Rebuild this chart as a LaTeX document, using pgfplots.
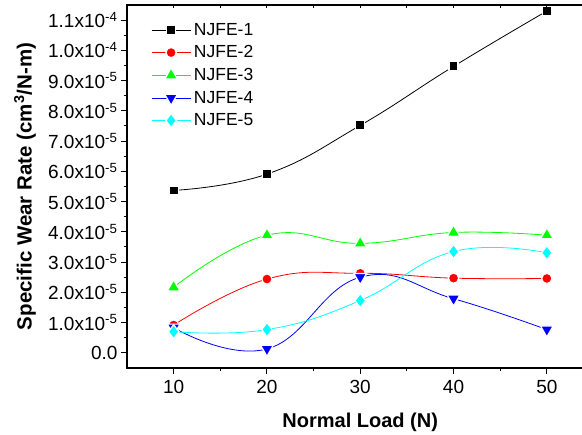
\documentclass[border=0pt]{standalone}
\usepackage{fontspec}
\setmainfont{Liberation Sans}
\usepackage{pgfplots}
\pgfplotsset{compat=1.18}
\definecolor{cblack}{RGB}{0,0,0}
\definecolor{cred}{RGB}{255,0,0}
\definecolor{cgreen}{RGB}{0,255,0}
\definecolor{cblue}{RGB}{0,0,255}
\definecolor{ccyan}{RGB}{0,255,255}
\begin{document}
\begin{tikzpicture}[x=1pt,y=1pt]
\clip (-127,-67) rectangle (455,368);
\begin{axis}[
  at={(0pt,0pt)}, anchor=south west,
  scale only axis, width=466.5pt, height=363pt,
  xmin=5, xmax=55, ymin=-0.5e-5, ymax=11.5e-5,
  xtick={10,20,30,40,50}, minor x tick num=1,
  ytick={0,1e-5,2e-5,3e-5,4e-5,5e-5,6e-5,7e-5,8e-5,9e-5,10e-5,11e-5},
  minor y tick num=1,
  yticklabels={0.0,1.0x10\textsuperscript{-5},2.0x10\textsuperscript{-5},3.0x10\textsuperscript{-5},4.0x10\textsuperscript{-5},5.0x10\textsuperscript{-5},6.0x10\textsuperscript{-5},7.0x10\textsuperscript{-5},8.0x10\textsuperscript{-5},9.0x10\textsuperscript{-5},1.0x10\textsuperscript{-4},1.1x10\textsuperscript{-4}},
  scaled y ticks=false,
  /pgf/number format/assume math mode=true,
  tick align=outside, xtick pos=left, ytick pos=left,
  major tick length=6pt, minor tick length=3pt,
  axis line style={line width=1.2pt},
  every tick/.style={line width=1pt, black},
  ticklabel style={font=\fontsize{19}{19}\selectfont},
  xticklabel style={yshift=-3pt},
  xlabel={\bfseries Normal Load (N)},
  ylabel={\bfseries Specific Wear Rate (cm\textsuperscript{3}/N-m)},
  every axis x label/.style={at={(rel axis cs:0.5,0)}, anchor=north, yshift=-45pt, inner sep=0pt, font=\fontsize{20}{20}\selectfont},
  every axis y label/.style={at={(rel axis cs:0,0.5)}, xshift=-113pt, anchor=north, rotate=90, inner sep=0pt, font=\fontsize{20.5}{20.5}\selectfont},
  legend style={at={(rel axis cs:0,1)}, anchor=north west, xshift=21pt, yshift=-15pt, draw=none, fill=none,
    font=\fontsize{17.5}{21}\selectfont, row sep=7pt, column sep=2pt, nodes={inner sep=1pt}},
  legend cell align=left,
  legend image code/.code={\draw[mark repeat=2,mark phase=2,#1] plot coordinates {(0pt,0pt) (19.5pt,0pt) (39pt,0pt)};},
  every axis plot/.append style={line width=0.8pt, smooth, tension=0.75},
]
\addplot[cblack, mark=square*, mark options={fill=cblack, draw=white, line width=1.2pt, mark size=4.5pt}] coordinates {(10,5.37e-5) (20,5.91e-5) (30,7.52e-5) (40,9.47e-5) (50,11.3e-5)};
\addlegendentry{NJFE-1}
\addplot[cred, mark=*, mark options={fill=cred, draw=white, line width=1.2pt, mark size=5.1pt}] coordinates {(10,0.92e-5) (20,2.44e-5) (30,2.63e-5) (40,2.47e-5) (50,2.46e-5)};
\addlegendentry{NJFE-2}
\addplot[cgreen, mark=triangle*, mark options={fill=cgreen, draw=white, line width=1.2pt, mark size=7.3pt}] coordinates {(10,2.17e-5) (20,3.89e-5) (30,3.62e-5) (40,3.98e-5) (50,3.89e-5)};
\addlegendentry{NJFE-3}
\addplot[cblue, mark=triangle*, mark options={fill=cblue, draw=white, line width=1.2pt, mark size=7.3pt, rotate=180}] coordinates {(10,0.83e-5) (20,0.13e-5) (30,2.50e-5) (40,1.79e-5) (50,0.77e-5)};
\addlegendentry{NJFE-4}
\addplot[ccyan, mark=diamond*, mark options={fill=ccyan, draw=white, line width=1.2pt, mark size=7pt}] coordinates {(10,0.70e-5) (20,0.77e-5) (30,1.73e-5) (40,3.35e-5) (50,3.31e-5)};
\addlegendentry{NJFE-5}
\end{axis}
\begin{axis}[
  at={(0pt,0pt)}, anchor=south west,
  scale only axis, width=466.5pt, height=363pt,
  xmin=5, xmax=55, ymin=-0.5e-5, ymax=11.5e-5,
  xtick={10,20,30,40,50}, minor x tick num=1,
  xticklabels={}, ytick=\empty,
  tick align=inside, xtick pos=right,
  major tick length=3pt, minor tick length=3pt,
  axis line style={line width=1.2pt},
  every tick/.style={line width=1pt, black},
]
\end{axis}
\end{tikzpicture}
\end{document}
